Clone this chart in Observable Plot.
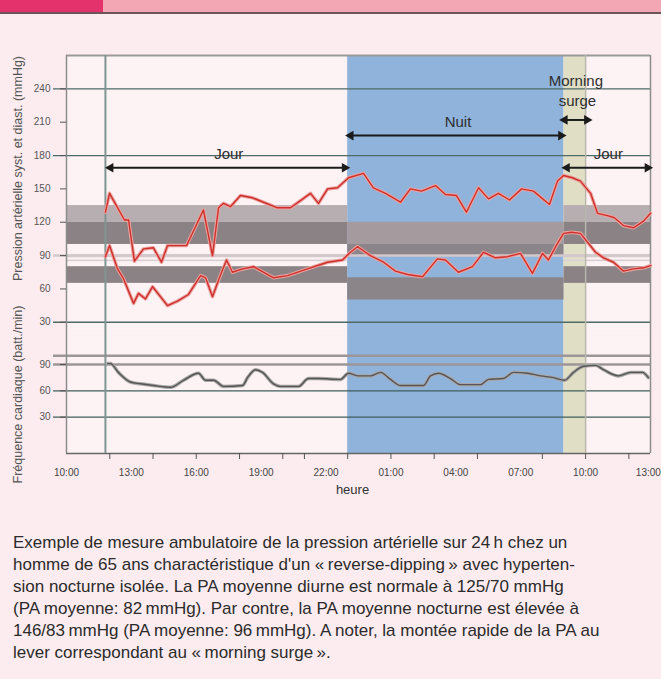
<!DOCTYPE html>
<html><head><meta charset="utf-8">
<script src="https://cdn.jsdelivr.net/npm/d3@7"></script>
<script src="https://cdn.jsdelivr.net/npm/@observablehq/plot@0.6"></script>
<style>
body{margin:0;background:#fcecef;width:661px;height:679px;overflow:hidden;position:relative;font-family:"Liberation Sans",Arial,sans-serif}
#hdr1{position:absolute;left:0;top:0;width:103px;height:12px;background:#e4336c}
#hdr2{position:absolute;left:103px;top:0;width:558px;height:12px;background:#f3a7b5}
#hdrline{position:absolute;left:0;top:12px;width:661px;height:2px;background:#6b5558}
#bp{position:absolute;left:0;top:14px}
#hr{position:absolute;left:0;top:335px}
#caption{position:absolute;left:13px;top:532px;font-size:17px;line-height:22px;color:#2b2b2b;white-space:nowrap}
</style></head>
<body>
<div id="hdr1"></div><div id="hdr2"></div><div id="hdrline"></div>
<div id="bp"></div><div id="hr"></div>
<div id="caption"></div>
<script>
// ---------- data (time in hours since day-1 00:00) ----------
const systolicTime = [11.80,11.99,12.68,12.87,13.14,13.56,14.02,14.39,14.67,15.55,16.33,16.75,17.03,17.26,17.58,18.04,18.60,19.75,20.36,21.28,21.65,22.07,22.53,23.04,23.73,24.19,24.75,25.44,25.90,26.41,27.06,27.52,28.03,28.49,29.05,29.51,29.97,30.48,31.04,31.59,32.33,32.70,32.98,33.39,33.76,34.23,34.55,35.01,35.33,35.75,36.21,36.68,37.0];
const systolicMmHg = [129,146,122,122,85,96,97,84,99,99,131,90,133,137,134,144,142,133,133,146,137,150,151,160,164,151,146,138,150,148,153,145,144,129,151,141,146,140,150,148,136,157,162,160,157,146,128,126,124,117,115,121,128];
const diastolicTime = [11.80,11.99,12.36,12.64,13.10,13.33,13.65,13.98,14.67,15.13,15.64,16.20,16.43,16.75,17.03,17.40,17.67,18.14,18.65,19.57,20.22,21.14,22.07,22.76,23.13,23.45,24.05,24.66,25.21,25.77,26.46,27.15,27.52,28.12,28.77,29.28,29.83,30.39,30.99,31.54,32.01,32.28,32.70,32.98,33.35,33.76,34.09,34.46,34.83,35.29,35.75,36.21,36.68,37.0];
const diastolicMmHg = [89,99,78,69,47,56,51,62,45,49,55,72,70,53,68,86,75,78,80,70,72,78,84,86,93,98,90,84,76,73,71,87,86,75,80,93,88,89,92,74,92,86,101,110,111,110,102,93,88,84,76,78,79,81];
const heartTime = [11.90,12.03,12.40,12.96,13.42,14.02,14.81,15.41,16.10,16.43,16.80,17.26,18.14,18.37,18.74,19.06,19.57,19.89,20.73,21.19,21.65,22.67,23.04,23.50,24.05,24.52,24.98,25.44,26.50,26.83,27.20,27.75,28.22,29.14,29.51,30.20,30.67,31.31,31.91,32.52,33.02,33.44,33.90,34.46,34.83,35.52,36.08,36.63,36.90];
const heartBpm = [91,91,81,70,68,66,64,72,80,72,72,65,66,75,84,81,68,65,65,74,74,73,80,77,77,81,73,66,66,77,80,74,67,67,73,74,81,80,77,75,72,81,88,89,84,77,81,81,75];

// periods
const dayRanges = [[10, 23], [33, 37]];
const nightRange = [23, 33];
const surgeRange = [33, 34];
const recordingStart = 11.8;
const surgeEnd = 34;

// reference bands (mmHg)
const dayBandLow = [120, 100, 88, 84.5, 65];
const dayBandHigh = [135, 120, 91, 86, 80];
const dayBandTone = ["light", "dark", "stripe", "stripe", "dark"];
const nightBandLow = [100, 90, 50];
const nightBandHigh = [120, 100, 70];
const nightBandTone = ["nightLight", "nightDark", "nightDark"];

// axes
const xLabelHours = [10, 13, 16, 19, 22, 25, 28, 31, 34, 36.9];
const xTickHours = [12, 14, 16, 18, 20, 21, 23, 25, 27, 29, 32, 34, 36];
const bpTicks = [30, 60, 90, 120, 150, 180, 210, 240];
const bpGridDark = [240, 180, 30];
const bpGridLight = [90];
const hrTicks = [30, 60, 90];
const hrGridDark = [60, 30];
const hrGridLight = [100, 90];

// annotations
const arrowStart = [11.9, 23.0, 32.9, 33.0];
const arrowEnd = [23.0, 33.0, 34.2, 37.0];
const arrowLevel = [169, 198, 212, 169];
const labelText = ["Jour", "Nuit", "Morning", "surge", "Jour"];
const labelTime = [17.5, 28.1, 33.55, 33.62, 35.05];
const labelLevel = [181, 210, 247, 229, 181];

const captionLines = [
  "Exemple de mesure ambulatoire de la pression artérielle sur 24\u2009h chez un",
  "homme de 65 ans charactéristique d'un «\u2009reverse-dipping\u2009» avec hyperten-",
  "sion nocturne isolée. La PA moyenne diurne est normale à 125/70 mmHg",
  "(PA moyenne: 82\u2009mmHg). Par contre, la PA moyenne nocturne est élevée à",
  "146/83\u2009mmHg (PA moyenne: 96\u2009mmHg). A noter, la montée rapide de la PA au",
  "lever correspondant au «\u2009morning surge\u2009»."
];

// ---------- build ----------
const X_DOMAIN = [10, 37];
const BP_DOMAIN = [18.1, 270];
const HR_DOMAIN = [-11.4, 123];
const fmt = h => String(Math.round(h) % 24).padStart(2, "0") + ":00";
const toneFill = {light: "#b6aeb1", dark: "#8a8284", stripe: "#d9d0d3", nightLight: "#a59b9f", nightDark: "#8b8489"};

const sys = systolicTime.map((t, i) => ({t, v: systolicMmHg[i]}));
const dia = diastolicTime.map((t, i) => ({t, v: diastolicMmHg[i]}));
const hr = heartTime.map((t, i) => ({t, v: heartBpm[i]}));
const bands = [];
for (const [a, b] of dayRanges) dayBandLow.forEach((lo, i) => bands.push({x1: a, x2: b, y1: lo, y2: dayBandHigh[i], tone: dayBandTone[i]}));
nightBandLow.forEach((lo, i) => bands.push({x1: nightRange[0], x2: nightRange[1], y1: lo, y2: nightBandHigh[i], tone: nightBandTone[i]}));
const arrows = arrowStart.map((s, i) => ({s, e: arrowEnd[i], y: arrowLevel[i]}));
const labels = labelText.map((text, i) => ({text, t: labelTime[i], v: labelLevel[i]}));

const common = {
  width: 661, marginLeft: 66, marginRight: 11,
  color: {type: "identity"},
  style: {background: "transparent", overflow: "visible", fontFamily: "'Liberation Sans', Arial, sans-serif", color: "#444"}
};

function periodMarks(dom) {
  return [
    Plot.frame({fill: "#fdf2f4", stroke: "none"}),
    Plot.rect([nightRange], {x1: d => d[0], x2: d => d[1], y1: dom[0], y2: dom[1], fill: "#8fb3db"}),
    Plot.rect([surgeRange], {x1: d => d[0], x2: d => d[1], y1: dom[0], y2: dom[1], fill: "#e0dfc6"})
  ];
}
function edgeMarks() {
  return [
    Plot.ruleX([X_DOMAIN[0]], {stroke: "#8c8c8c", strokeWidth: 1.5}),
    Plot.ruleX([X_DOMAIN[1]], {stroke: "#8c8c8c", strokeWidth: 1.5}),
    Plot.ruleX([recordingStart], {stroke: "#7e9692", strokeWidth: 2}),
    Plot.ruleX([surgeEnd], {stroke: "#b9b6aa", strokeWidth: 1.5})
  ];
}

const bpPlot = Plot.plot({
  ...common,
  height: 321, marginTop: 41, marginBottom: 0,
  x: {domain: X_DOMAIN, axis: null},
  y: {domain: BP_DOMAIN},
  marks: [
    ...periodMarks(BP_DOMAIN),
    Plot.rect(bands, {x1: "x1", x2: "x2", y1: "y1", y2: "y2", fill: d => toneFill[d.tone]}),
    Plot.ruleY(bpGridLight, {stroke: "#d2c9cc", strokeWidth: 2.5, insetLeft: -13}),
    Plot.ruleY(bpGridDark, {stroke: "#4e6a66", strokeWidth: 1.3, insetLeft: -13}),
    Plot.ruleY([BP_DOMAIN[1]], {stroke: "#9a9a9a", strokeWidth: 2}),
    ...edgeMarks(),
    Plot.axisY(bpTicks, {tickSize: 6, tickPadding: 10, fontSize: 10, color: "#555", label: null}),
    Plot.text(["Pression artérielle syst. et diast. (mmHg)"], {frameAnchor: "left", textAnchor: "middle", rotate: -90, dx: -49, dy: -27, fontSize: 12.5, fill: "#555"}),
    Plot.line(sys, {x: "t", y: "v", stroke: "#eaa3a0", strokeWidth: 3.5}),
    Plot.line(sys, {x: "t", y: "v", stroke: "#cf2f2a", strokeWidth: 1.4}),
    Plot.line(dia, {x: "t", y: "v", stroke: "#eaa3a0", strokeWidth: 3.5}),
    Plot.line(dia, {x: "t", y: "v", stroke: "#cf2f2a", strokeWidth: 1.4}),
    Plot.link(arrows, {x1: "s", x2: "e", y1: "y", y2: "y", stroke: "#1b1b1b", strokeWidth: 2}),
    Plot.dot(arrows, {x: "e", y: "y", symbol: "triangle", r: 3.6, rotate: 90, dx: -3, fill: "#1b1b1b", stroke: "none"}),
    Plot.dot(arrows, {x: "s", y: "y", symbol: "triangle", r: 3.6, rotate: -90, dx: 3, fill: "#1b1b1b", stroke: "none"}),
    Plot.text(labels, {x: "t", y: "v", text: "text", fontSize: 15, fill: "#2e2e2e"})
  ]
});

const hrPlot = Plot.plot({
  ...common,
  height: 175, marginTop: 0, marginBottom: 57,
  x: {domain: X_DOMAIN},
  y: {domain: HR_DOMAIN},
  marks: [
    ...periodMarks(HR_DOMAIN),
    Plot.ruleY(hrGridLight, {stroke: "#9d9698", strokeWidth: 2.5, insetLeft: -13}),
    Plot.ruleY(hrGridDark, {stroke: "#3f5e5a", strokeWidth: 1.3, insetLeft: -13}),
    Plot.ruleY([HR_DOMAIN[0]], {stroke: "#666", strokeWidth: 1.5}),
    ...edgeMarks(),
    Plot.axisY(hrTicks, {tickSize: 6, tickPadding: 10, fontSize: 10, color: "#555", label: null}),
    Plot.axisX(xTickHours, {anchor: "bottom", tickSize: 6, tickFormat: () => "", color: "#555", label: null}),
    Plot.axisX(xLabelHours, {anchor: "bottom", tickSize: 0, tickPadding: 15, tickFormat: fmt, fontSize: 10, color: "#444", label: null}),
    Plot.text(["Fréquence cardiaque (batt./min)"], {frameAnchor: "left", textAnchor: "middle", rotate: -90, dx: -49, dy: 0, fontSize: 12.5, fill: "#555"}),
    Plot.text(["heure"], {frameAnchor: "bottom", dy: 40, dx: -6, fontSize: 13, fill: "#333"}),
    Plot.line(hr, {x: "t", y: "v", stroke: "#a9a6a7", strokeWidth: 3.5, curve: "monotone-x"}),
    Plot.line(hr, {x: "t", y: "v", stroke: "#555", strokeWidth: 1.4, curve: "monotone-x"})
  ]
});

document.getElementById("bp").append(bpPlot);
document.getElementById("hr").append(hrPlot);
const cap = document.getElementById("caption");
for (const line of captionLines) { const d = document.createElement("div"); d.textContent = line; cap.append(d); }
</script>
</body></html>
